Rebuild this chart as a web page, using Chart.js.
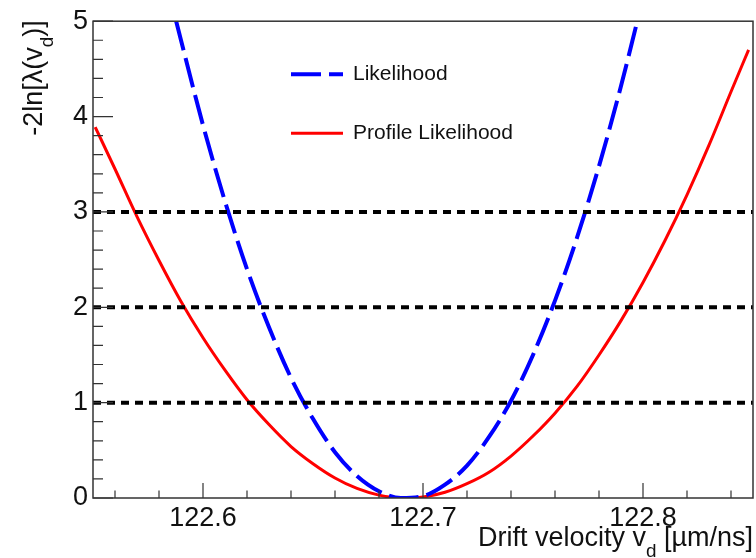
<!DOCTYPE html>
<html>
<head>
<meta charset="utf-8">
<script src="https://cdn.jsdelivr.net/npm/chart.js@4/dist/chart.umd.min.js"></script>
<style>html,body{margin:0;padding:0;background:#fff}</style>
</head>
<body>
<canvas id="c" width="756" height="558"></canvas>
<script>
// ── data ───────────────────────────────────────────
const likeX = [122.5878, 122.59, 122.60, 122.61, 122.62, 122.63, 122.64, 122.65, 122.66, 122.67,
               122.68, 122.69, 122.70, 122.71, 122.72, 122.73, 122.74, 122.75, 122.76, 122.77,
               122.78, 122.79, 122.7974];
const likeY = [5.00, 4.80, 3.91, 3.11, 2.40, 1.79, 1.26, 0.83, 0.48, 0.23,
               0.07, 0.00, 0.02, 0.14, 0.34, 0.64, 1.02, 1.50, 2.07, 2.73,
               3.48, 4.32, 5.00];

const profX = [122.551, 122.56, 122.57, 122.58, 122.59, 122.60, 122.61, 122.62, 122.63, 122.64,
               122.65, 122.66, 122.67, 122.68, 122.69, 122.70, 122.71, 122.72, 122.73, 122.74,
               122.75, 122.76, 122.77, 122.78, 122.79, 122.80, 122.81, 122.82, 122.83, 122.84,
               122.848];
const profY = [3.89, 3.45, 2.95, 2.49, 2.06, 1.68, 1.34, 1.03, 0.77, 0.54,
               0.36, 0.21, 0.10, 0.03, 0.00, 0.01, 0.06, 0.15, 0.27, 0.44,
               0.65, 0.89, 1.17, 1.50, 1.86, 2.26, 2.70, 3.18, 3.70, 4.26,
               4.70];

const cutLevels = [1, 2, 3];
const xRange = [122.55, 122.85];
const yRange = [0, 5];

// tick positions (major ones get a label)
const xTicks = [122.56, 122.58, 122.60, 122.62, 122.64, 122.66, 122.68, 122.70,
                122.72, 122.74, 122.76, 122.78, 122.80, 122.82, 122.84];
const xLabels = ['122.6', '122.7', '122.8'];
const yLabels = ['0', '1', '2', '3', '4', '5'];

const FONT = "'Liberation Sans', Arial, sans-serif";
const BLUE = '#0000ff';
const RED  = '#ff0000';

const isMult = (v, step) => Math.abs(v / step - Math.round(v / step)) < 1e-6;

// ── text with a subscript ────────────────────────────
function richWidth(ctx, parts, size) {
    let w = 0;
    parts.forEach(p => {
        ctx.font = (p.sub ? size * 0.7 : size) + 'px ' + FONT;
        w += ctx.measureText(p.t).width;
    });
    return w;
}
function drawRich(ctx, parts, size, xEnd, yBase) {
    let x = xEnd - richWidth(ctx, parts, size);
    parts.forEach(p => {
        ctx.font = (p.sub ? size * 0.7 : size) + 'px ' + FONT;
        ctx.fillText(p.t, x, yBase + (p.sub ? size * 0.4 : 0));
        x += ctx.measureText(p.t).width;
    });
}

// ── ROOT-like frame, ticks, titles, legend ──────────
const rootFrame = {
    id: 'rootFrame',
    afterDraw(chart) {
        const { ctx, chartArea: a, scales: { x, y } } = chart;
        ctx.save();
        ctx.strokeStyle = '#333';
        ctx.lineWidth = 1.5;
        ctx.strokeRect(a.left, a.top, a.right - a.left, a.bottom - a.top);

        ctx.lineWidth = 1.2;
        ctx.beginPath();
        x.ticks.forEach(t => {
            const px = x.getPixelForValue(t.value);
            const len = isMult(t.value, 0.1) ? 15 : 7.5;
            ctx.moveTo(px, a.bottom); ctx.lineTo(px, a.bottom - len);
        });
        y.ticks.forEach(t => {
            const py = y.getPixelForValue(t.value);
            const len = isMult(t.value, 1) ? 20 : 10;
            ctx.moveTo(a.left, py); ctx.lineTo(a.left + len, py);
        });
        ctx.stroke();

        // axis titles
        ctx.fillStyle = '#111';
        ctx.textAlign = 'left';
        ctx.textBaseline = 'alphabetic';
        drawRich(ctx, [{ t: 'Drift velocity v' }, { t: 'd', sub: true }, { t: ' [µm/ns]' }], 27, a.right, 546);

        ctx.save();
        ctx.translate(42, a.top - 1);
        ctx.rotate(-Math.PI / 2);
        drawRich(ctx, [{ t: '-2ln[λ(v' }, { t: 'd', sub: true }, { t: ')]' }], 27, 0, 0);
        ctx.restore();

        // legend
        const lx0 = a.left + 198, lx1 = a.left + 250, tx = a.left + 260;
        ctx.lineWidth = 4;
        ctx.strokeStyle = BLUE;
        ctx.setLineDash([30, 8]);
        ctx.beginPath(); ctx.moveTo(lx0, a.top + 53); ctx.lineTo(lx1, a.top + 53); ctx.stroke();
        ctx.setLineDash([]);
        ctx.lineWidth = 3;
        ctx.strokeStyle = RED;
        ctx.beginPath(); ctx.moveTo(lx0, a.top + 112); ctx.lineTo(lx1, a.top + 112); ctx.stroke();

        ctx.font = '21px ' + FONT;
        ctx.textBaseline = 'middle';
        ctx.fillStyle = '#111';
        ctx.fillText('Likelihood', tx, a.top + 53);
        ctx.fillText('Profile Likelihood', tx, a.top + 112);
        ctx.restore();
    }
};

const cutSets = cutLevels.map(lv => ({
    label: 'cut ' + lv,
    data: xRange.map(v => ({ x: v, y: lv })),
    borderColor: '#000',
    borderWidth: 4,
    borderDash: [8, 6],
    pointRadius: 0,
    order: 0,
}));

new Chart(document.getElementById('c'), {
    type: 'line',
    data: {
        datasets: [
            ...cutSets,
            {
                label: 'Likelihood',
                data: likeX.map((v, i) => ({ x: v, y: likeY[i] })),
                borderColor: BLUE,
                borderWidth: 4,
                borderDash: [30, 8],
                pointRadius: 0,
                cubicInterpolationMode: 'monotone',
                order: 1,
            },
            {
                label: 'Profile Likelihood',
                data: profX.map((v, i) => ({ x: v, y: profY[i] })),
                borderColor: RED,
                borderWidth: 3,
                pointRadius: 0,
                cubicInterpolationMode: 'monotone',
                order: 2,
            },
        ]
    },
    options: {
        responsive: false,
        animation: false,
        devicePixelRatio: 1,
        layout: { padding: { top: 19, right: 3, left: 0, bottom: 0 } },
        plugins: { legend: { display: false }, tooltip: { enabled: false } },
        scales: {
            x: {
                type: 'linear',
                min: xRange[0], max: xRange[1],
                grid: { display: false, drawTicks: false },
                border: { display: false },
                afterBuildTicks: s => { s.ticks = xTicks.map(v => ({ value: v })); },
                ticks: {
                    autoSkip: false,
                    maxRotation: 0,
                    padding: 4,
                    color: '#111',
                    font: { family: FONT, size: 27 },
                    callback: v => xLabels.find(l => Math.abs(+l - v) < 1e-6) || '',
                },
                afterFit: s => { s.height = 60; },
            },
            y: {
                min: yRange[0], max: yRange[1],
                grid: { display: false, drawTicks: false },
                border: { display: false },
                ticks: {
                    stepSize: 0.2,
                    autoSkip: false,
                    padding: 5,
                    color: '#111',
                    font: { family: FONT, size: 27 },
                    callback: v => yLabels.find(l => Math.abs(+l - v) < 1e-6) || '',
                },
                afterFit: s => { s.width = 93; },
            }
        }
    },
    plugins: [rootFrame]
});
</script>
</body>
</html>
